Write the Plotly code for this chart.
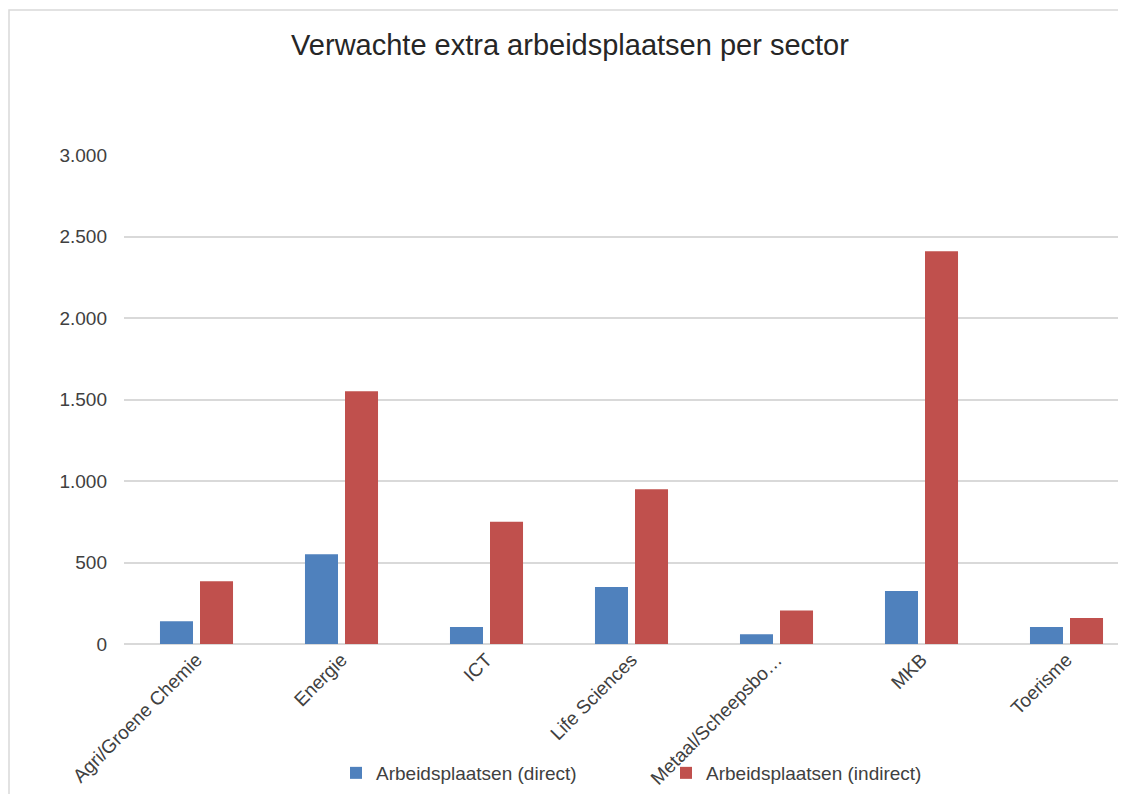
import plotly.graph_objects as go

# ── Data ───────────────────────────────────────────────────────────────────
sectors = [
    "Agri/Groene Chemie", "Energie", "ICT", "Life Sciences",
    "Metaal/Scheepsbo…", "MKB", "Toerisme",
]
direct = [140, 550, 105, 350, 60, 325, 105]
indirect = [385, 1550, 750, 950, 205, 2410, 160]
y_ticks = [0, 500, 1000, 1500, 2000, 2500, 3000]

BLUE = "#4F81BD"
RED = "#C0504D"
GRID = "#D9D9D9"
TEXT = "#404040"
FONT = "Liberation Sans, Arial, sans-serif"

# page body adds an 8px offset, so targets below are screen px minus 8
OFF = 8
W, H = 1126, 794
L = 124 - OFF              # plot left edge on screen: 124
T = 155 - OFF              # y = 3000 gridline on screen: 155
B = H - (644 - OFF)        # y = 0 on screen: 644
R = 0
pw, ph = W - L - R, H - T - B
CAT = 145                  # px per category


def px_y(screen_y):
    """screen pixel row -> paper y"""
    return (H - B - (screen_y - OFF)) / ph


def px_x(screen_x):
    """screen pixel column -> paper x"""
    return (screen_x - OFF - L) / pw


fig = go.Figure()
fig.add_trace(go.Bar(
    x=sectors, y=direct, name="Arbeidsplaatsen (direct)",
    marker=dict(color=BLUE, line=dict(width=0)),
))
fig.add_trace(go.Bar(
    x=sectors, y=indirect, name="Arbeidsplaatsen (indirect)",
    marker=dict(color=RED, line=dict(width=0)),
))

# light outer border of the chart area
fig.add_shape(
    type="rect", xref="paper", yref="paper", layer="below",
    x0=px_x(9), x1=1.05, y0=-0.5, y1=px_y(10),
    line=dict(color=GRID, width=1.5), fillcolor="rgba(0,0,0,0)",
)

fig.update_layout(
    width=W, height=H,
    margin=dict(l=L, r=R, t=T, b=B),
    paper_bgcolor="white", plot_bgcolor="white",
    font=dict(family=FONT, color=TEXT, size=19),
    separators=",.",
    title=dict(
        text="Verwachte extra arbeidsplaatsen per sector",
        x=(570 - OFF) / W, xanchor="center",
        y=1 - (45 - OFF) / H, yanchor="middle",
        font=dict(size=29, color="#262626"),
    ),
    barmode="group", bargap=0.448, bargroupgap=0.175,
    xaxis=dict(
        range=[-0.5, -0.5 + pw / CAT], tickangle=-45,
        showgrid=False, showline=False, ticks="",
        tickfont=dict(size=19, color=TEXT),
    ),
    yaxis=dict(
        range=[0, 3000], tickvals=y_ticks, tickformat=",d",
        gridcolor=GRID, gridwidth=1.5, zeroline=True, zerolinecolor=GRID,
        zerolinewidth=1.5, ticks="", ticklabelstandoff=16,
        tickfont=dict(size=19, color=TEXT),
    ),
    legend=dict(
        orientation="h", x=px_x(336), xanchor="left",
        y=px_y(773), yanchor="middle",
        entrywidth=285, entrywidthmode="pixels",
        font=dict(size=19, color=TEXT), bgcolor="rgba(0,0,0,0)",
        itemwidth=30,
    ),
)

fig.write_html("out.html")
